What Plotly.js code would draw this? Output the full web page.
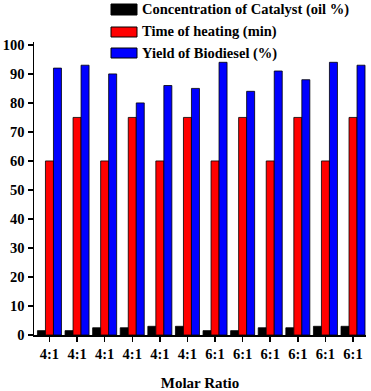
<!DOCTYPE html>
<html>
<head>
<meta charset="utf-8">
<script src="https://cdn.plot.ly/plotly-3.0.1.min.js"></script>
<style>
  html, body { margin: 0; padding: 0; background: #fff; }
  #chart { width: 371px; height: 391px; }
</style>
</head>
<body>
<div id="chart"></div>
<script>
// Molar ratio of each run (tick labels)
const molarRatio = ["4:1", "4:1", "4:1", "4:1", "4:1", "4:1", "6:1", "6:1", "6:1", "6:1", "6:1", "6:1"];
// Series values per run
const catalystConc = [1.5, 1.5, 2.5, 2.5, 3, 3, 1.5, 1.5, 2.5, 2.5, 3, 3];
const heatingTime = [60, 75, 60, 75, 60, 75, 60, 75, 60, 75, 60, 75];
const biodieselYield = [92, 93, 90, 80, 86, 85, 94, 84, 91, 88, 94, 93];
const seriesNames = ["Concentration of Catalyst (oil %)", "Time of heating (min)", "Yield of Biodiesel (%)"];
const seriesColors = ["#000000", "#ff0000", "#0000ff"];

const runIndex = molarRatio.map((_, i) => i);
const serif = "Liberation Serif";

const traces = [catalystConc, heatingTime, biodieselYield].map((vals, k) => ({
  type: "bar",
  x: runIndex,
  y: vals,
  name: seriesNames[k],
  marker: { color: seriesColors[k], line: { color: "#000", width: 0.8 } },
  showlegend: false,
  hoverinfo: "y"
}));

// Plot box in pixels
const plotLeft = 34, plotW = 332, plotBottom = 335, plotH = 293;
const px = v => (v - plotLeft) / plotW;
const py = v => (plotBottom - v) / plotH;

// Legend drawn as wide swatches with labels above the bars
const rows = [ {top: 4, bot: 15}, {top: 27, bot: 37}, {top: 48, bot: 58} ];
const shapes = rows.map((r, k) => ({
  type: "rect", xref: "paper", yref: "paper",
  x0: px(111), x1: px(137), y0: py(r.bot), y1: py(r.top),
  fillcolor: seriesColors[k], line: { color: "#000", width: 1 }
}));
const annotations = rows.map((r, k) => ({
  xref: "paper", yref: "paper",
  x: px(140), y: py((r.top + r.bot) / 2),
  xanchor: "left", yanchor: "middle",
  text: seriesNames[k], showarrow: false,
  font: { family: serif, size: 14.5, weight: "bold", color: "#000" }
}));

const layout = {
  width: 371, height: 391,
  margin: { l: plotLeft, r: 371 - plotLeft - plotW, t: plotBottom - plotH, b: 391 - plotBottom },
  paper_bgcolor: "#fff", plot_bgcolor: "#fff",
  barmode: "group", bargap: 0.13, bargroupgap: 0,
  font: { family: serif, size: 14.5, weight: "bold", color: "#000" },
  xaxis: {
    range: [-0.56, 11.47],
    tickvals: runIndex, ticktext: molarRatio,
    ticks: "outside", ticklen: 5, tickwidth: 1.5, tickcolor: "#000",
    showline: true, linecolor: "#000", linewidth: 1.5,
    showgrid: false, zeroline: false,
    tickfont: { family: serif, size: 14.5, weight: "bold" },
    title: { text: "Molar Ratio", font: { family: serif, size: 15, weight: "bold" }, standoff: 22 }
  },
  yaxis: {
    range: [0, 101],
    tickvals: [0, 10, 20, 30, 40, 50, 60, 70, 80, 90, 100],
    ticks: "outside", ticklen: 5, tickwidth: 1.5, tickcolor: "#000",
    showline: true, linecolor: "#000", linewidth: 1.5,
    showgrid: false, zeroline: false,
    tickfont: { family: serif, size: 14.5, weight: "bold" }
  },
  shapes: shapes,
  annotations: annotations
};

Plotly.newPlot("chart", traces, layout, { displayModeBar: false, staticPlot: true });
</script>
</body>
</html>
